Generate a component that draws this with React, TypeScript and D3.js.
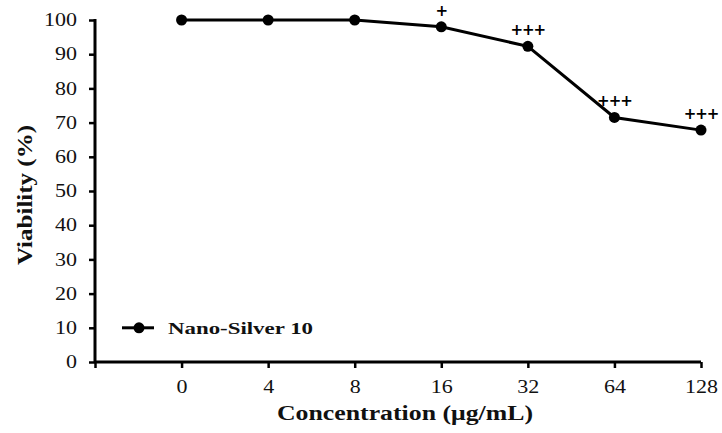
import { useRef, useEffect } from "react";
import * as d3 from "d3";

const concentrations = ["0", "4", "8", "16", "32", "64", "128"];
const viability = [100, 100, 100, 98, 92.3, 71.5, 67.8];
const significance = ["", "", "", "+", "+++", "+++", "+++"];
const yTicks = [0, 10, 20, 30, 40, 50, 60, 70, 80, 90, 100];
const seriesName = "Nano-Silver 10";

const W = 722;
const H = 433;

export default function App() {
  const svgRef = useRef<SVGSVGElement | null>(null);

  useEffect(() => {
    const svg = d3.select(svgRef.current);
    svg.selectAll("*").remove();

    const font = "'Liberation Serif', 'Times New Roman', serif";
    const left = 95;
    const right = 701;
    const top = 20;
    const bottom = 362;

    // blank slot before "0" so the first category sits one step in from the axis
    const x = d3
      .scalePoint<string>()
      .domain(["", ...concentrations])
      .range([left, right]);
    const y = d3.scaleLinear().domain([0, 100]).range([bottom, top]);

    const g = svg.append("g");

    // --- axes ---
    const yAxis = g
      .append("g")
      .attr("transform", `translate(${left},0)`)
      .call(d3.axisLeft(y).tickValues(yTicks).tickSize(6).tickPadding(12));
    const xAxis = g
      .append("g")
      .attr("transform", `translate(0,${bottom})`)
      .call(d3.axisBottom(x).tickSize(6).tickPadding(12));

    [yAxis, xAxis].forEach((ax) => {
      ax.select(".domain").attr("stroke", "#000").attr("stroke-width", 3);
      ax.selectAll(".tick line").attr("stroke", "#000").attr("stroke-width", 2.5);
      ax.selectAll<SVGTextElement, unknown>("text")
        .attr("fill", "#111")
        .attr("font-family", font)
        .attr("font-size", "18px")
        // source glyphs are stretched sideways
        .attr("textLength", function () {
          return (this.textContent || "").length * 11;
        })
        .attr("lengthAdjust", "spacingAndGlyphs");
    });
    yAxis.select(".domain").attr("d", `M0,${top - 1}V${bottom}`);
    xAxis.select(".domain").attr("d", `M${left},0H${right}`);

    // --- series line ---
    const pts = concentrations.map((c, i) => ({ c, v: viability[i], s: significance[i] }));
    const line = d3
      .line<{ c: string; v: number }>()
      .x((d) => x(d.c)!)
      .y((d) => y(d.v));
    g.append("path")
      .datum(pts)
      .attr("d", line)
      .attr("fill", "none")
      .attr("stroke", "#000")
      .attr("stroke-width", 3);

    g.selectAll("circle.pt")
      .data(pts)
      .join("circle")
      .attr("class", "pt")
      .attr("cx", (d) => x(d.c)!)
      .attr("cy", (d) => y(d.v))
      .attr("r", 5.5)
      .attr("fill", "#000");

    // significance marks
    g.selectAll("text.sig")
      .data(pts.filter((d) => d.s))
      .join("text")
      .attr("class", "sig")
      .attr("x", (d) => x(d.c)!)
      .attr("y", (d) => y(d.v) - 11)
      .attr("text-anchor", "middle")
      .attr("font-family", "'DejaVu Sans', sans-serif")
      .attr("font-weight", "bold")
      .attr("font-size", "15px")
      .attr("letter-spacing", "-1px")
      .text((d) => d.s);

    // --- legend ---
    const lg = g.append("g").attr("transform", `translate(122,${y(10)})`);
    lg.append("line")
      .attr("x1", 0)
      .attr("x2", 32)
      .attr("stroke", "#000")
      .attr("stroke-width", 3);
    lg.append("circle").attr("cx", 17).attr("r", 5.5).attr("fill", "#000");
    lg.append("text")
      .attr("x", 46)
      .attr("dy", "0.35em")
      .attr("font-family", font)
      .attr("font-weight", "bold")
      .attr("font-size", "17px")
      .attr("fill", "#111")
      .attr("textLength", 145)
      .attr("lengthAdjust", "spacingAndGlyphs")
      .text(seriesName);

    // --- axis titles ---
    g.append("text")
      .attr("x", 277)
      .attr("y", 420)
      .attr("font-family", font)
      .attr("font-weight", "bold")
      .attr("font-size", "20px")
      .attr("fill", "#111")
      .attr("textLength", 256)
      .attr("lengthAdjust", "spacingAndGlyphs")
      .text("Concentration (μg/mL)");

    g.append("text")
      .attr("transform", `translate(32,265) rotate(-90)`)
      .attr("font-family", font)
      .attr("font-weight", "bold")
      .attr("font-size", "21px")
      .attr("fill", "#111")
      .attr("textLength", 140)
      .attr("lengthAdjust", "spacingAndGlyphs")
      .text("Viability (%)");
  }, []);

  return (
    <svg
      ref={svgRef}
      width={W}
      height={H}
      style={{ position: "absolute", left: 0, top: 0, background: "#fff" }}
    />
  );
}
